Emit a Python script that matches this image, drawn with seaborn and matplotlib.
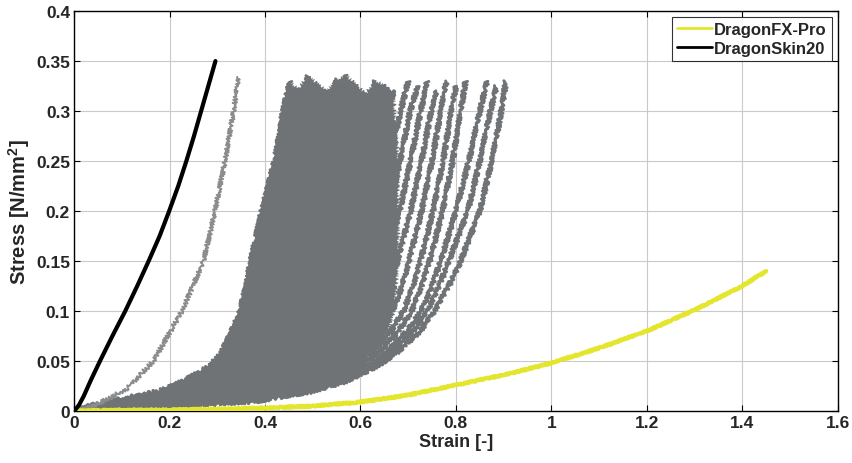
import numpy as np
import pandas as pd
import matplotlib
matplotlib.use("Agg")
import matplotlib.pyplot as plt
import seaborn as sns

# ---- measured data -------------------------------------------------------
# DragonFX-Pro
fx_strain = [0, 0.1, 0.2, 0.3, 0.4, 0.5, 0.6, 0.7, 0.8, 0.9, 1.0, 1.1, 1.2, 1.3, 1.4, 1.45]
fx_stress = [0, 0.001, 0.001, 0.002, 0.003, 0.005, 0.009, 0.016, 0.026, 0.036,
             0.048, 0.063, 0.080, 0.101, 0.125, 0.140]

# DragonSkin20
ds_strain = [0, 0.01, 0.02, 0.035, 0.054, 0.08, 0.107, 0.132, 0.156, 0.179,
             0.199, 0.218, 0.235, 0.251, 0.266, 0.281, 0.296]
ds_stress = [0, 0.006, 0.015, 0.031, 0.05, 0.075, 0.1, 0.125, 0.15, 0.175,
             0.2, 0.225, 0.25, 0.275, 0.3, 0.325, 0.35]

# single early specimen
early_strain = [0, 0.04, 0.11, 0.166, 0.226, 0.271, 0.295, 0.316, 0.334, 0.344]
early_stress = [0, 0.005, 0.022, 0.05, 0.1, 0.15, 0.2, 0.25, 0.3, 0.334]

# specimen family: strain at common stress levels, then each curve's end point
band_stress = [0, 0.005, 0.01, 0.02, 0.03, 0.045, 0.06, 0.08, 0.1, 0.125, 0.15, 0.2, 0.25, 0.3]
band_strain = [
    [0, .03, .08, .18, .23, .285, .31, .33, .348, .36, .37, .393, .42, .438],
    [0, .035, .09, .19, .245, .30, .325, .345, .362, .375, .385, .41, .435, .455],
    [0, .04, .10, .20, .26, .315, .34, .362, .378, .392, .403, .43, .455, .475],
    [0, .05, .11, .21, .275, .33, .357, .38, .397, .412, .423, .45, .475, .495],
    [0, .06, .12, .225, .29, .345, .375, .40, .417, .432, .444, .47, .495, .515],
    [0, .07, .135, .24, .305, .36, .392, .418, .436, .452, .464, .49, .515, .535],
    [0, .08, .15, .255, .32, .378, .41, .437, .456, .472, .485, .51, .535, .555],
    [0, .09, .165, .27, .335, .395, .428, .456, .476, .492, .505, .53, .555, .575],
    [0, .10, .18, .285, .35, .412, .446, .475, .496, .512, .525, .55, .575, .595],
    [0, .11, .195, .30, .365, .43, .465, .495, .516, .532, .545, .57, .595, .615],
    [0, .12, .21, .315, .38, .448, .484, .515, .536, .552, .565, .59, .615, .635],
    [0, .13, .225, .33, .40, .466, .503, .535, .556, .572, .585, .612, .637, .657],
    [0, .14, .24, .35, .42, .485, .522, .556, .578, .595, .608, .637, .662, .684],
    [0, .15, .26, .37, .44, .505, .542, .577, .60, .617, .63, .66, .683, .704],
    [0, .16, .28, .39, .46, .525, .562, .598, .622, .64, .654, .682, .705, .726],
    [0, .165, .30, .41, .48, .545, .583, .62, .645, .664, .678, .705, .728, .748],
    [0, .17, .31, .43, .50, .565, .604, .642, .667, .687, .702, .728, .75, .768],
    [0, .175, .325, .45, .52, .585, .625, .664, .69, .71, .726, .752, .773, .79],
    [0, .18, .34, .465, .535, .60, .64, .68, .707, .728, .745, .772, .793, .81],
    [0, .19, .36, .48, .55, .615, .657, .698, .727, .75, .768, .80, .827, .85],
    [0, .195, .37, .49, .56, .625, .668, .71, .74, .765, .785, .825, .85, .872],
    [0, .20, .38, .50, .57, .635, .68, .725, .755, .785, .81, .85, .875, .895],
]
band_end_strain = [.452, .468, .49, .51, .53, .55, .57, .59, .61, .63, .65,
                   .67, .70, .72, .74, .76, .78, .80, .82, .865, .885, .905]
band_end_stress = [.33, .322, .335, .328, .32, .332, .336, .327, .318, .33, .326,
                   .32, .33, .325, .33, .32, .33, .325, .33, .33, .325, .33]

# right edge of the densely overlapping part of the family
core_edge_strain = [0, .20, .36, .47, .54, .60, .63, .66, .67, .675, .68, .68, .68, .672]

x_ticks = [0, 0.2, 0.4, 0.6, 0.8, 1.0, 1.2, 1.4, 1.6]
y_ticks = [0, 0.05, 0.1, 0.15, 0.2, 0.25, 0.3, 0.35, 0.4]

# ---- styling ---------------------------------------------------------------
sns.set_theme(style="whitegrid")
plt.rcParams["font.family"] = ["Liberation Sans", "DejaVu Sans"]
plt.rcParams["mathtext.fontset"] = "custom"
plt.rcParams["mathtext.rm"] = "Liberation Sans"
plt.rcParams["mathtext.bf"] = "Liberation Sans:bold"

GRAY = "#6f7375"
YELLOW = "#e4e62e"

fig = plt.figure(figsize=(8.53, 4.64), dpi=100)
ax = fig.add_axes([0.087, 0.112, 0.895, 0.862])

# dense core of the specimen family: up the first curve, across the curve
# ends, back down the core edge
n_core = 12
poly_x = (band_strain[0] + band_end_strain[:n_core] + core_edge_strain[::-1])
poly_y = (band_stress + band_end_stress[:n_core] + band_stress[::-1])
core = ax.fill(poly_x, poly_y, color=GRAY, lw=0, zorder=2)[0]
core.set_sketch_params(scale=2.0, length=3.0, randomness=2.0)

rows = []
for i, (row, xe, ye) in enumerate(zip(band_strain, band_end_strain, band_end_stress)):
    for s, t in zip(row + [xe], band_stress + [ye]):
        rows.append((i, s, t))
band_df = pd.DataFrame(rows, columns=["curve", "strain", "stress"])

n_before = len(ax.lines)
sns.lineplot(data=band_df, x="strain", y="stress", units="curve", estimator=None,
             sort=False, color=GRAY, lw=2.1, ax=ax, zorder=3, legend=False)
sns.lineplot(x=early_strain, y=early_stress, sort=False, estimator=None,
             color="#8a8c8d", lw=1.4, ax=ax, zorder=3)
for ln in ax.lines[n_before:]:
    ln.set_sketch_params(scale=2.2, length=3.0, randomness=2.0)

sns.lineplot(x=fx_strain, y=fx_stress, sort=False, estimator=None,
             color=YELLOW, lw=3.0, ax=ax, zorder=4, label="DragonFX-Pro")
ax.lines[-1].set_sketch_params(scale=0.8, length=3.0, randomness=2.0)
sns.lineplot(x=ds_strain, y=ds_stress, sort=False, estimator=None,
             color="black", lw=3.0, ax=ax, zorder=5, label="DragonSkin20")

# ---- axes ------------------------------------------------------------------
ax.set_xlim(0, 1.6)
ax.set_ylim(0, 0.4)
ax.set_xticks(x_ticks)
ax.set_yticks(y_ticks)
ax.set_xticklabels([f"{v:g}" for v in x_ticks], fontweight="bold", fontsize=12.5)
ax.set_yticklabels([f"{v:g}" for v in y_ticks], fontweight="bold", fontsize=12.5)
ax.grid(True, color="#c9c9c9", lw=0.8)
ax.tick_params(direction="in", length=4, width=0.8, color="black",
               top=True, right=True, bottom=True, left=True, pad=3)
for sp in ax.spines.values():
    sp.set_color("black")
    sp.set_linewidth(1.0)

ax.set_xlabel("Strain [-]", fontweight="bold", fontsize=13, labelpad=2)
ax.set_ylabel(r"Stress [N/mm$^{\mathbf{2}}$]", fontweight="bold", fontsize=14.5, labelpad=3)

leg = ax.legend(loc="upper right", fancybox=False, frameon=True,
                prop={"weight": "bold", "size": 12}, handlelength=2.1,
                borderpad=0.3, labelspacing=0.25, handletextpad=0.15,
                borderaxespad=0.35)
leg.get_frame().set_edgecolor("black")
leg.get_frame().set_linewidth(0.8)
for line in leg.get_lines():
    line.set_linewidth(2.0)
    line.set_sketch_params(None)

fig.savefig("out.png", dpi=100)
